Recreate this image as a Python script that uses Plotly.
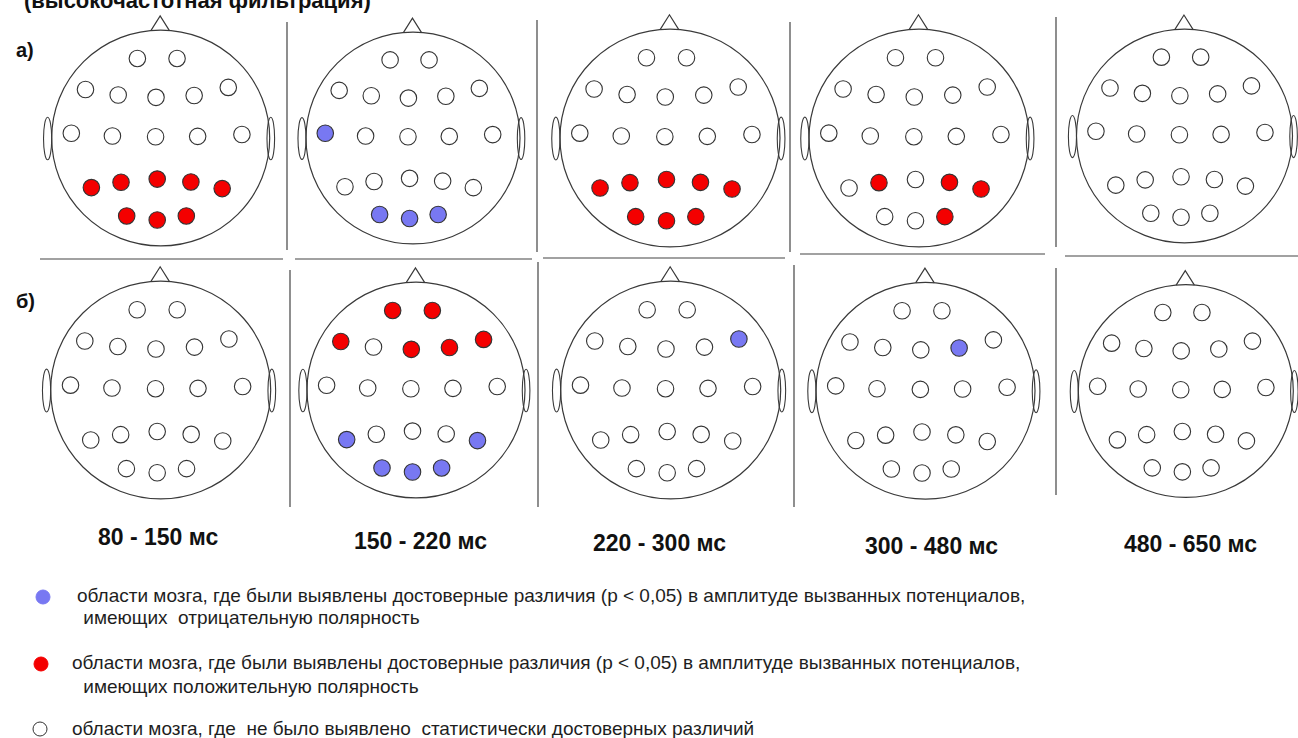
import plotly.graph_objects as go

W, H = 1298, 738

# ---- data -------------------------------------------------------------
# 20-electrode montage in head units (x to the right, y toward the nose)
elec_x = [-0.214, 0.150,
          -0.690, -0.390, -0.043, 0.307, 0.620,
          -0.820, -0.443, -0.047, 0.339, 0.745,
          -0.636, -0.364, -0.032, 0.277, 0.564,
          -0.312, -0.032, 0.235]
elec_y = [0.730, 0.730,
          0.445, 0.395, 0.373, 0.390, 0.464,
          0.044, 0.018, 0.012, 0.015, 0.032,
          -0.455, -0.406, -0.377, -0.403, -0.464,
          -0.715, -0.752, -0.715]

time_windows = ["80 - 150 мс", "150 - 220 мс", "220 - 300 мс", "300 - 480 мс", "480 - 650 мс"]
row_labels = ["а)", "б)"]

# significance per electrode: 1 = positive polarity, -1 = negative, 0 = none
sig_a_80_150 = [0, 0, 0, 0, 0, 0, 0, 0, 0, 0, 0, 0, 1, 1, 1, 1, 1, 1, 1, 1]
sig_a_150_220 = [0, 0, 0, 0, 0, 0, 0, -1, 0, 0, 0, 0, 0, 0, 0, 0, 0, -1, -1, -1]
sig_a_220_300 = [0, 0, 0, 0, 0, 0, 0, 0, 0, 0, 0, 0, 1, 1, 1, 1, 1, 1, 1, 1]
sig_a_300_480 = [0, 0, 0, 0, 0, 0, 0, 0, 0, 0, 0, 0, 0, 1, 0, 1, 1, 0, 0, 1]
sig_a_480_650 = [0] * 20
sig_b_80_150 = [0] * 20
sig_b_150_220 = [1, 1, 1, 0, 1, 1, 1, 0, 0, 0, 0, 0, -1, 0, 0, 0, -1, -1, -1, -1]
sig_b_220_300 = [0, 0, 0, 0, 0, 0, -1, 0, 0, 0, 0, 0, 0, 0, 0, 0, 0, 0, 0, 0]
sig_b_300_480 = [0, 0, 0, 0, 0, -1, 0, 0, 0, 0, 0, 0, 0, 0, 0, 0, 0, 0, 0, 0]
sig_b_480_650 = [0] * 20

sig_rows = [
    [sig_a_80_150, sig_a_150_220, sig_a_220_300, sig_a_300_480, sig_a_480_650],
    [sig_b_80_150, sig_b_150_220, sig_b_220_300, sig_b_300_480, sig_b_480_650],
]

legend_lines = [
    ("области мозга, где были выявлены достоверные различия (p &lt; 0,05) в амплитуде вызванных потенциалов,",
     "\u00a0имеющих\u00a0 отрицательную полярность"),
    ("области мозга, где были выявлены достоверные различия (p &lt; 0,05) в амплитуде вызванных потенциалов,",
     "\u00a0имеющих положительную полярность"),
    ("области мозга, где\u00a0 не было выявлено\u00a0 статистически достоверных различий", None),
]
legend_states = [-1, 1, 0]

# ---- styles & layout geometry (pixels) ---------------------------------
FILL = {1: "#f40000", -1: "#7878f2", 0: "#ffffff"}
EDGE = "#333333"
LINE = "#3a3a3a"
FONT = "Liberation Sans, Arial, sans-serif"

head_cx = [[160.7, 413.0, 670.0, 919.0, 1184.5], [160.7, 416.0, 670.7, 925.5, 1185.8]]
head_cy = [[138.0, 138.0, 138.0, 138.0, 136.0], [390.0, 390.0, 390.0, 390.7, 391.0]]
head_r = [[109.0, 107.0, 110.0, 110.0, 108.0], [110.0, 109.0, 110.0, 109.5, 107.5]]
label_xy = [(158, 537), (420, 541), (659, 543), (931, 546), (1190, 544)]


def px(x):
    return x / W


def py(y):
    return 1 - y / H


fig = go.Figure()
shapes = []
annotations = []
axes = {}

L = 1.2
k = 0
for r in range(2):
    for c in range(5):
        k += 1
        cx, cy, R = head_cx[r][c], head_cy[r][c], head_r[r][c]
        x0p, x1p = max(0.0, cx - L * R), min(float(W), cx + L * R)
        y0p, y1p = max(0.0, cy - L * R), min(float(H), cy + L * R)
        xa = "xaxis" if k == 1 else f"xaxis{k}"
        ya = "yaxis" if k == 1 else f"yaxis{k}"
        xr_, yr_ = ("x" if k == 1 else f"x{k}"), ("y" if k == 1 else f"y{k}")
        axes[xa] = dict(domain=[px(x0p), px(x1p)], range=[(x0p - cx) / R, (x1p - cx) / R],
                        visible=False, anchor=yr_, fixedrange=True)
        axes[ya] = dict(domain=[py(y1p), py(y0p)], range=[(cy - y1p) / R, (cy - y0p) / R],
                        visible=False, anchor=xr_, fixedrange=True)

        # head outline, nose and ears
        shapes.append(dict(type="circle", xref=xr_, yref=yr_, x0=-1, x1=1, y0=-0.99, y1=0.99,
                           line=dict(color=LINE, width=1.2), layer="below"))
        shapes.append(dict(type="path", xref=xr_, yref=yr_,
                           path="M -0.09,0.985 L -0.005,1.12 L 0.08,0.985",
                           line=dict(color=LINE, width=1.2), layer="below"))
        shapes.append(dict(type="circle", xref=xr_, yref=yr_, x0=-1.075, x1=-1.0, y0=-0.2, y1=0.19,
                           line=dict(color=LINE, width=1.1), layer="below"))
        shapes.append(dict(type="circle", xref=xr_, yref=yr_, x0=0.975, x1=1.045, y0=-0.2, y1=0.19,
                           line=dict(color=LINE, width=1.1), layer="below"))

        states = sig_rows[r][c]
        fig.add_trace(go.Scatter(
            x=elec_x, y=elec_y, xaxis=xr_, yaxis=yr_, mode="markers",
            marker=dict(size=16.5, color=[FILL[s] for s in states],
                        line=dict(color=EDGE, width=1.1)),
            hoverinfo="skip", showlegend=False, cliponaxis=False))

# separator lines between panels
sep_v = [(287, 22, 250), (537, 20, 252), (790, 22, 252), (1056, 17, 247),
         (290, 270, 507), (538, 262, 507), (794, 265, 507), (1056, 268, 495)]
sep_h = [(40, 283, 259), (295, 532, 259), (543, 785, 258), (800, 1045, 254), (1065, 1298, 256)]
for x, ya_, yb_ in sep_v:
    shapes.append(dict(type="line", xref="paper", yref="paper", x0=px(x), x1=px(x),
                       y0=py(ya_), y1=py(yb_), line=dict(color="#444", width=1.2)))
for xa_, xb_, y in sep_h:
    shapes.append(dict(type="line", xref="paper", yref="paper", x0=px(xa_), x1=px(xb_),
                       y0=py(y), y1=py(y), line=dict(color="#444", width=1.2)))

# title (runs off the top edge of the page)
annotations.append(dict(text="<b>(высокочастотная фильтрация)</b>", x=px(22), y=py(1),
                        xref="paper", yref="paper", xanchor="left", yanchor="middle",
                        showarrow=False, font=dict(family=FONT, size=22, color="#111")))
for lbl, yy in zip(row_labels, [50, 301]):
    annotations.append(dict(text=f"<b>{lbl}</b>", x=px(14), y=py(yy), xref="paper", yref="paper",
                            xanchor="left", yanchor="middle", showarrow=False,
                            font=dict(family=FONT, size=20, color="#111")))
for lbl, (lx, ly) in zip(time_windows, label_xy):
    annotations.append(dict(text=f"<b>{lbl}</b>", x=px(lx), y=py(ly), xref="paper", yref="paper",
                            xanchor="center", yanchor="middle", showarrow=False,
                            font=dict(family=FONT, size=23, color="#111")))

# legend: symbol + two text lines
leg_sym = [(43, 597), (41, 664), (40, 729)]
leg_txt1 = [(75, 595), (70, 662), (70, 728)]
leg_txt2 = [(76, 617), (76, 686), None]
for st, (sx, sy), t1, t2, (l1, l2) in zip(legend_states, leg_sym, leg_txt1, leg_txt2, legend_lines):
    shapes.append(dict(type="circle", xref="paper", yref="paper",
                       x0=px(sx - 7), x1=px(sx + 7), y0=py(sy + 7), y1=py(sy - 7),
                       fillcolor=FILL[st], line=dict(color=EDGE if st == 0 else FILL[st], width=1)))
    annotations.append(dict(text=l1, x=px(t1[0]), y=py(t1[1]), xref="paper", yref="paper",
                            xanchor="left", yanchor="middle", showarrow=False,
                            font=dict(family=FONT, size=19, color="#1e1e1e")))
    if l2:
        annotations.append(dict(text=l2, x=px(t2[0]), y=py(t2[1]), xref="paper", yref="paper",
                                xanchor="left", yanchor="middle", showarrow=False,
                                font=dict(family=FONT, size=19, color="#1e1e1e")))

fig.update_layout(
    width=W, height=H, autosize=False,
    margin=dict(l=0, r=0, t=0, b=0),
    paper_bgcolor="white", plot_bgcolor="rgba(0,0,0,0)",
    shapes=shapes, annotations=annotations, showlegend=False,
    **axes,
)

fig.write_html("out.html", config={"displayModeBar": False})
